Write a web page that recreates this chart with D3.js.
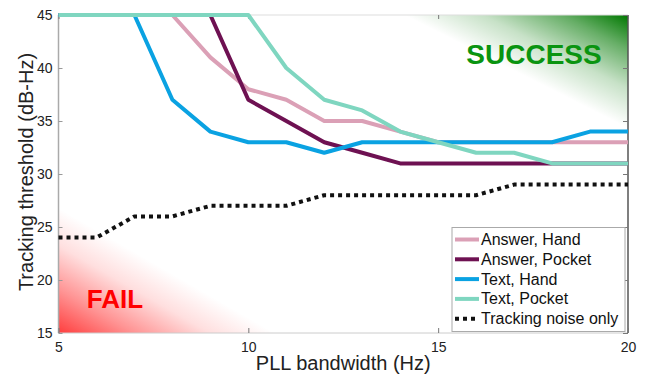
<!DOCTYPE html>
<html>
<head>
<meta charset="utf-8">
<script src="https://cdn.jsdelivr.net/npm/d3@7"></script>
<style>
body{margin:0;background:#fff;}
svg{display:block;font-family:"Liberation Sans",Arial,sans-serif;}
</style>
</head>
<body>
<svg id="chart" width="653" height="376"></svg>
<script>
// bandwidth (Hz)
var bandwidth=[5,6,7,8,9,10,11,12,13,14,15,16,17,18,19,20];
// tracking threshold (dB-Hz) per scenario
var answerHand  =[45,45,45,45,41,38,37,35,35,34,33,33,33,33,33,33];
var answerPocket=[45,45,45,45,45,37,35,33,32,31,31,31,31,31,31,31];
var textHand    =[45,45,45,37,34,33,33,32,33,33,33,33,33,33,34,34];
var textPocket  =[45,45,45,45,45,45,40,37,36,34,33,32,32,31,31,31];
var noiseOnly   =[24,24,26,26,27,27,27,28,28,28,28,28,29,29,29,29];
var seriesNames =["Answer, Hand","Answer, Pocket","Text, Hand","Text, Pocket","Tracking noise only"];
var xTicks=[5,10,15,20];
var yTicks=[15,20,25,30,35,40,45];

var svg=d3.select("#chart");
var x=d3.scaleLinear().domain([5,20]).range([58.5,628]);
var y=d3.scaleLinear().domain([15,45]).range([333,15]);

var series=[
	{name:seriesNames[0],vals:answerHand,color:"#dba0b6",dash:null},
	{name:seriesNames[1],vals:answerPocket,color:"#6e1152",dash:null},
	{name:seriesNames[2],vals:textHand,color:"#0aa2e2",dash:null},
	{name:seriesNames[3],vals:textPocket,color:"#7fd6c0",dash:null},
	{name:seriesNames[4],vals:noiseOnly,color:"#111",dash:"4,4"}
];

/*背景渐变区域*/
var defs=svg.append("defs");
function cornerGrad(id,color,corner,a,b,stops){
	// 从角点到对角线的垂足
	var cx=x(corner[0]),cy=y(corner[1]);
	var ax=x(a[0]),ay=y(a[1]),bx=x(b[0]),by=y(b[1]);
	var dx=bx-ax,dy=by-ay;
	var t=((cx-ax)*dx+(cy-ay)*dy)/(dx*dx+dy*dy);
	var g=defs.append("linearGradient").attr("id",id).attr("gradientUnits","userSpaceOnUse")
		.attr("x1",cx).attr("y1",cy).attr("x2",ax+t*dx).attr("y2",ay+t*dy);
	stops.forEach(function(s){
		g.append("stop").attr("offset",s[0]).attr("stop-color",color).attr("stop-opacity",s[1]);
	});
}
cornerGrad("gSucc","#007800",[20,45],[14.1,45],[20,34.3],[[0,1],[0.3,0.6],[0.65,0.22],[1,0]]);
cornerGrad("gFail","#ff2828",[5,15],[5,26.8],[10.7,15],[[0,0.9],[0.35,0.5],[0.7,0.15],[1,0]]);
svg.append("rect").attr("x",x(5)).attr("y",y(45)).attr("width",x(20)-x(5)).attr("height",y(15)-y(45)).attr("fill","url(#gSucc)");
svg.append("rect").attr("x",x(5)).attr("y",y(45)).attr("width",x(20)-x(5)).attr("height",y(15)-y(45)).attr("fill","url(#gFail)");

/*坐标轴框*/
var frame=svg.append("g");
frame.append("line").attr("x1",x(5)).attr("x2",x(20)).attr("y1",y(45)).attr("y2",y(45)).attr("stroke","#ddd");
frame.append("line").attr("x1",x(5)).attr("x2",x(20)).attr("y1",y(15)).attr("y2",y(15)).attr("stroke","#ccc");
frame.append("line").attr("x1",x(5)).attr("x2",x(5)).attr("y1",y(45)).attr("y2",y(15)).attr("stroke","#aaa").attr("stroke-width",1.5);
frame.append("line").attr("x1",x(20)).attr("x2",x(20)).attr("y1",y(45)).attr("y2",y(15)).attr("stroke","#555").attr("stroke-width",1.5);

// ticks inward
svg.append("g").attr("transform","translate(0,"+y(15)+")")
	.call(d3.axisBottom(x).tickValues(xTicks).tickSize(-5).tickPadding(9).tickFormat(d3.format("d")))
	.call(function(g){g.select(".domain").remove();g.selectAll("line").attr("stroke","#777");g.selectAll("text").attr("font-size",14).attr("fill","#222");});
svg.append("g").attr("transform","translate(0,"+y(45)+")")
	.call(d3.axisTop(x).tickValues(xTicks).tickSize(-4).tickFormat(""))
	.call(function(g){g.select(".domain").remove();g.selectAll("line").attr("stroke","#777");});
svg.append("g").attr("transform","translate("+x(5)+",0)")
	.call(d3.axisLeft(y).tickValues(yTicks).tickSize(-4).tickPadding(6).tickFormat(d3.format("d")))
	.call(function(g){g.select(".domain").remove();g.selectAll("line").attr("stroke","#999");g.selectAll("text").attr("font-size",14).attr("fill","#222");});
svg.append("g").attr("transform","translate("+x(20)+",0)")
	.call(d3.axisRight(y).tickValues(yTicks).tickSize(-5).tickFormat(""))
	.call(function(g){g.select(".domain").remove();g.selectAll("line").attr("stroke","#777");});

/*数据线*/
var line=d3.line().x(function(d,i){return x(bandwidth[i]);}).y(function(d){return y(d);});
svg.selectAll(".series").data(series).enter().append("path").attr("class","series")
	.attr("d",function(d){return line(d.vals);})
	.attr("fill","none")
	.attr("stroke",function(d){return d.color;})
	.attr("stroke-width",4)
	.attr("stroke-linejoin","round")
	.attr("stroke-dasharray",function(d){return d.dash;});

/*文字标注*/
svg.append("text").attr("x",534).attr("y",64).attr("text-anchor","middle")
	.attr("font-size",28).attr("font-weight","bold").attr("fill","#0a9410").text("SUCCESS");
svg.append("text").attr("x",115).attr("y",308).attr("text-anchor","middle")
	.attr("font-size",26).attr("font-weight","bold").attr("fill","#ff0000").text("FAIL");

svg.append("text").attr("x",(x(5)+x(20))/2).attr("y",370).attr("text-anchor","middle")
	.attr("font-size",20).attr("fill","#222").text("PLL bandwidth (Hz)");
svg.append("text").attr("transform","translate(33,"+((y(15)+y(45))/2-2)+") rotate(-90)")
	.attr("text-anchor","middle").attr("font-size",20).attr("fill","#222").text("Tracking threshold (dB-Hz)");

/*图例*/
var legend=svg.append("g").attr("transform","translate(452,227.5)");
legend.append("rect").attr("width",173).attr("height",104).attr("fill","#fff").attr("stroke","#aaa");
legend.selectAll(".leg").data(series).enter().append("g").attr("class",function(d,i){
	var node=d3.select(this);
	var ly=12+i*19.8;
	node.append("line").attr("x1",3).attr("x2",27).attr("y1",ly).attr("y2",ly)
		.attr("stroke",d.color).attr("stroke-width",4).attr("stroke-dasharray",d.dash);
	node.append("text").attr("x",29).attr("y",ly+5.5).attr("font-size",16).attr("fill","#111").text(d.name);
	return "leg";
});
</script>
</body>
</html>
